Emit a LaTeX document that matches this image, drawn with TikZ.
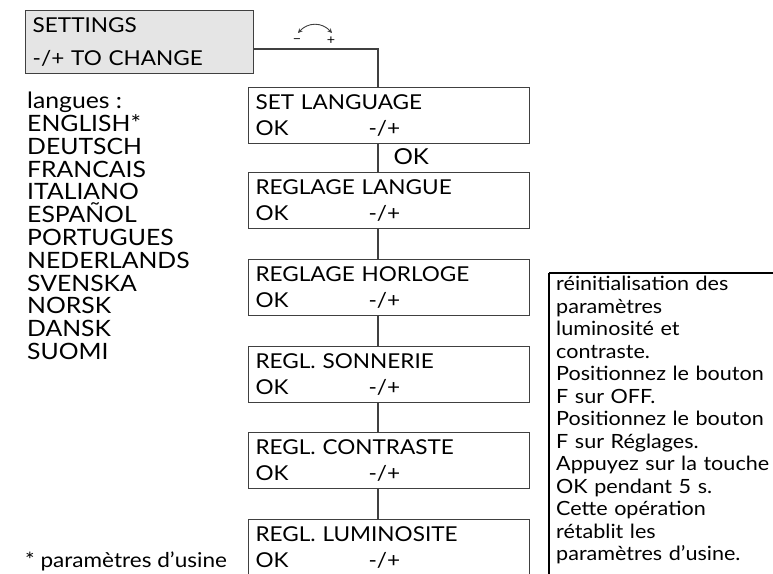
\documentclass[tikz,border=0pt]{standalone}
\usepackage{fontspec}
\setmainfont[FakeStretch=1.1]{Lato}
\usetikzlibrary{arrows.meta}
\colorlet{boxline}{black!75}
\colorlet{setfill}{black!10}

\begin{document}
\begin{tikzpicture}[x=1pt,y=-1pt,
        menu/.style={draw=boxline,line width=1.1pt,anchor=north west,
            minimum height=56pt,text width=267pt,inner xsep=7pt,inner ysep=0pt,
            align=left,font=\fontsize{20.5}{26.5}\selectfont},
        link/.style={draw=boxline,line width=1.4pt}
    ]
    \useasboundingbox (0,0) rectangle (773,573);
    \clip (0,0) rectangle (773,573);
    \node[draw=boxline,fill=setfill,line width=1.4pt,anchor=north west,
        minimum height=63pt,text width=214pt,inner xsep=7pt,inner ysep=0pt,
        align=left,font=\fontsize{20.5}{32.5}\selectfont]
        (settings) at (25,10) {SETTINGS\\-/+ TO CHANGE};
    \coordinate (knee) at (378,49);
    \node[menu] (lang) at (248,87) {SET LANGUAGE\\\makebox[113pt][l]{OK}-/+};
    \node[menu] (langue) at (248,172) {REGLAGE LANGUE\\\makebox[113pt][l]{OK}-/+};
    \node[menu] (horloge) at (248,259) {REGLAGE HORLOGE\\\makebox[113pt][l]{OK}-/+};
    \node[menu] (sonnerie) at (248,346) {REGL. SONNERIE\\\makebox[113pt][l]{OK}-/+};
    \node[menu] (contraste) at (248,432) {REGL. CONTRASTE\\\makebox[113pt][l]{OK}-/+};
    \node[menu] (luminosite) at (248,519) {REGL. LUMINOSITE\\\makebox[113pt][l]{OK}-/+};
    \draw[link] (settings.east |- knee) -- (knee) -- (lang.north -| knee);
    \draw[link] (lang.south -| knee) -- (langue.north -| knee);
    \draw[link] (langue.south -| knee) -- (horloge.north -| knee);
    \draw[link] (horloge.south -| knee) -- (sonnerie.north -| knee);
    \draw[link] (sonnerie.south -| knee) -- (contraste.north -| knee);
    \draw[link] (contraste.south -| knee) -- (luminosite.north -| knee);
    \node[anchor=west,font=\fontsize{22}{22}\selectfont] (okstep) at (390,157) {OK};
    \draw[boxline,line width=0.9pt,{Stealth[length=4.5pt,width=4.5pt]}-{Stealth[length=4.5pt,width=4.5pt]}]
        (298,33) .. controls (308,22) and (322,22) .. (332,33);
    \node[font=\fontsize{13}{13}\selectfont,inner sep=0pt] (knobminus) at (297,41) {\textminus};
    \node[font=\fontsize{13}{13}\selectfont,inner sep=0pt] (knobplus) at (331,41) {+};
    \node[anchor=north west,align=left,inner sep=0pt,
        font=\fontsize{22.5}{22.8}\selectfont] (langs) at (27,92)
        {langues :\\ENGLISH*\\DEUTSCH\\FRANCAIS\\ITALIANO\\ESPAÑOL\\PORTUGUES\\NEDERLANDS\\SVENSKA\\NORSK\\DANSK\\SUOMI};
    \node[anchor=base west,inner sep=0pt,font=\fontsize{20.5}{22}\selectfont]
        (usine) at (25,567) {* paramètres d'usine};
    \node[anchor=north west,align=left,text width=240pt,inner xsep=7pt,inner ysep=3pt,
        font=\fontsize{19.6}{22.5}\selectfont] (note) at (549,273)
        {réinitialisation des\\paramètres\\luminosité et\\contraste.\\Positionnez le bouton\\F sur OFF.\\Positionnez le bouton\\F sur Réglages.\\Appuyez sur la touche\\OK pendant 5 s.\\Cette opération\\rétablit les\\paramètres d'usine.};
    \draw[line width=2pt] (note.north west) -- ++(0,330) (note.north west) -- ++(260,0);
\end{tikzpicture}
\end{document}
